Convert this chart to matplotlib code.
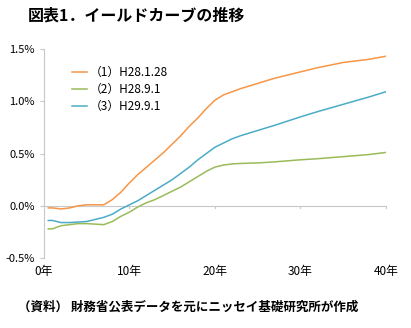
import matplotlib
matplotlib.use('Agg')
import matplotlib.pyplot as plt
from matplotlib.ticker import FuncFormatter

plt.rcParams['font.family'] = ['Noto Sans CJK JP', 'DejaVu Sans']

# maturity (years) and yields (%)
years = [0.5, 1, 2, 3, 4, 5, 6, 7, 8, 9, 10, 11, 12, 13, 14, 15, 16, 17, 18, 19,
         20, 21, 22, 23, 25, 27, 30, 32, 35, 38, 40]
h28_1_28 = [-0.02, -0.02, -0.03, -0.02, 0.00, 0.01, 0.01, 0.01, 0.06, 0.13, 0.22,
            0.30, 0.37, 0.44, 0.51, 0.59, 0.67, 0.76, 0.84, 0.93, 1.01, 1.06,
            1.09, 1.12, 1.17, 1.22, 1.28, 1.32, 1.37, 1.40, 1.43]
h28_9_1 = [-0.22, -0.22, -0.19, -0.18, -0.17, -0.17, -0.175, -0.18, -0.15, -0.10,
           -0.06, -0.01, 0.03, 0.06, 0.10, 0.14, 0.18, 0.23, 0.28, 0.33, 0.37,
           0.39, 0.40, 0.405, 0.41, 0.42, 0.44, 0.45, 0.47, 0.49, 0.51]
h29_9_1 = [-0.14, -0.14, -0.16, -0.16, -0.155, -0.15, -0.13, -0.11, -0.08, -0.03,
           0.01, 0.05, 0.10, 0.15, 0.20, 0.25, 0.31, 0.37, 0.44, 0.50, 0.56,
           0.60, 0.64, 0.67, 0.72, 0.77, 0.85, 0.90, 0.97, 1.04, 1.09]
labels = ['（1）H28.1.28', '（2）H28.9.1', '（3）H29.9.1']
colors = ['#F79646', '#9BBB59', '#4BACC6']
x_ticks = [0, 10, 20, 30, 40]
y_ticks = [-0.5, 0.0, 0.5, 1.0, 1.5]

fig = plt.figure(figsize=(4.11, 3.28), dpi=100)
ax = fig.add_axes([0.107, 0.213, 0.832, 0.638])

for vals, lab, col in zip([h28_1_28, h28_9_1, h29_9_1], labels, colors):
    ax.plot(years, vals, color=col, lw=1.1, label=lab)

ax.set_xlim(0, 40)
ax.set_ylim(-0.5, 1.5)
ax.set_xticks(x_ticks)
ax.set_yticks(y_ticks)
ax.xaxis.set_major_formatter(FuncFormatter(lambda v, p: f'{int(v)}年'))
ax.yaxis.set_major_formatter(FuncFormatter(lambda v, p: f'{v:.1f}%'))

for s in ['top', 'right', 'bottom']:
    ax.spines[s].set_visible(False)
ax.spines['left'].set_color('#c8c8c8')
ax.spines['left'].set_linewidth(0.8)
ax.axhline(0, color='#c8c8c8', lw=0.8, zorder=0)
# x ticks hanging from the zero line
for t in x_ticks[1:]:
    ax.plot([t, t], [0, -0.025], color='#c8c8c8', lw=0.8, clip_on=False)
ax.tick_params(axis='x', length=0, pad=5, labelsize=8.5)
ax.tick_params(axis='y', length=3, color='#c8c8c8', width=0.8, labelsize=8)

leg = ax.legend(loc='upper left', bbox_to_anchor=(0.05, 0.97), frameon=False,
                fontsize=8.5, handlelength=1.3, handletextpad=0.2,
                labelspacing=0.35)

fig.text(0.068, 0.952, '図表1．イールドカーブの推移', fontsize=11.5,
         fontweight='bold', va='center')
fig.text(0.045, 0.065, '（資料） 財務省公表データを元にニッセイ基礎研究所が作成',
         fontsize=9, fontweight='bold', va='center')

fig.savefig('out.png', dpi=100)
